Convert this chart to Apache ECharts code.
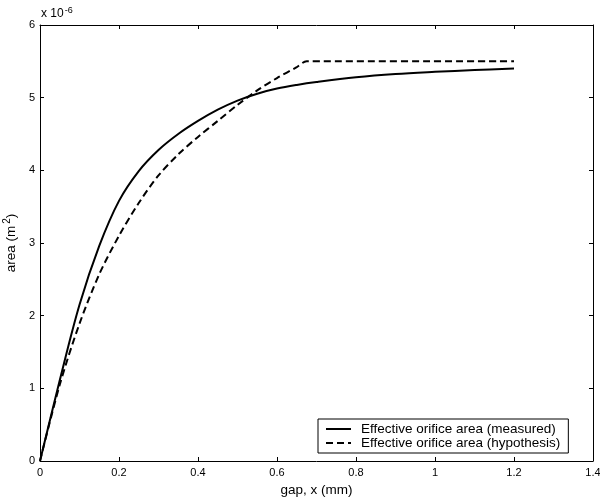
<!DOCTYPE html>
<html>
<head>
<meta charset="utf-8">
<script src="https://cdn.jsdelivr.net/npm/echarts@6/dist/echarts.min.js"></script>
<style>html,body{margin:0;padding:0;background:#fff}#c{width:600px;height:499px}</style>
</head>
<body>
<div id="c"></div>
<script>
// Data (area in units of 1e-6 m^2, gap in mm)
var measuredX = [0, 0.05, 0.1, 0.15, 0.2, 0.25, 0.3, 0.35, 0.4, 0.45, 0.5, 0.55, 0.6, 0.65, 0.7, 0.8, 0.9, 1.0, 1.1, 1.2];
var measuredY = [0, 1.11, 2.15, 2.96, 3.58, 3.99, 4.28, 4.50, 4.68, 4.835, 4.96, 5.055, 5.125, 5.175, 5.215, 5.28, 5.325, 5.355, 5.38, 5.40];
var hypoX = [0, 0.05, 0.1, 0.15, 0.2, 0.25, 0.3, 0.35, 0.4, 0.45, 0.5, 0.55, 0.6, 0.65, 0.675, 1.2];
var hypoY = [0, 1.05, 1.89, 2.57, 3.10, 3.55, 3.93, 4.22, 4.46, 4.68, 4.90, 5.10, 5.27, 5.42, 5.5, 5.5];
var seriesNames = ['Effective orifice area (measured)', 'Effective orifice area (hypothesis)'];
var xTicks = [0, 0.2, 0.4, 0.6, 0.8, 1, 1.2, 1.4];
var yTicks = [0, 1, 2, 3, 4, 5, 6];

function pairs(xs, ys) { return xs.map(function (x, i) { return [x, ys[i]]; }); }

var FONT = '"Liberation Sans", Arial, sans-serif';
var chart = echarts.init(document.getElementById('c'), null, {renderer: 'canvas'});
var axisCommon = {
  axisLine: {show: true, onZero: false, lineStyle: {color: '#000', width: 1}},
  axisTick: {show: true, inside: true, length: 4, lineStyle: {color: '#000', width: 1}},
  splitLine: {show: false}
};
chart.setOption({
  animation: false,
  textStyle: {fontFamily: FONT},
  grid: {left: 40, right: 7, top: 25, bottom: 38, containLabel: false, outerBoundsMode: 'none'},
  xAxis: [
    Object.assign({
      type: 'value', position: 'bottom', min: xTicks[0], max: xTicks[xTicks.length - 1], interval: 0.2,
      axisLabel: {color: '#000', fontSize: 11, fontFamily: FONT, margin: 6,
        formatter: function (v) { return String(+v.toFixed(1)); }},
      name: 'gap, x (mm)', nameLocation: 'middle', nameGap: 22,
      nameTextStyle: {color: '#000', fontSize: 13.5, fontFamily: FONT}
    }, axisCommon),
    Object.assign({
      type: 'value', position: 'top', min: xTicks[0], max: xTicks[xTicks.length - 1], interval: 0.2,
      axisLabel: {show: false}
    }, axisCommon)
  ],
  yAxis: [
    Object.assign({
      type: 'value', position: 'left', min: yTicks[0], max: yTicks[yTicks.length - 1], interval: 1,
      axisLabel: {color: '#000', fontSize: 11, fontFamily: FONT, margin: 5},
      name: 'area (m{sup|2})', nameLocation: 'middle', nameGap: 19,
      nameTextStyle: {color: '#000', fontSize: 13.5, fontFamily: FONT,
        rich: {sup: {fontSize: 10, color: '#000', fontFamily: FONT, verticalAlign: 'top', padding: [0, 0, 8, 2]}}}
    }, axisCommon),
    Object.assign({
      type: 'value', position: 'right', min: yTicks[0], max: yTicks[yTicks.length - 1], interval: 1,
      axisLabel: {show: false}
    }, axisCommon)
  ],
  legend: {
    orient: 'vertical', left: 318, top: 419,
    padding: [3, 8, 3, 7], itemGap: 0, itemWidth: 25, itemHeight: 14,
    borderColor: '#000', borderWidth: 1, borderRadius: 0, backgroundColor: '#fff',
    itemStyle: {color: 'rgba(0,0,0,0)', borderWidth: 0, opacity: 0},
    textStyle: {color: '#000', fontSize: 13.5, fontFamily: FONT, padding: [0, 0, 0, 5]},
    data: seriesNames
  },
  graphic: [{
    type: 'text', left: 41, top: 6,
    style: {text: 'x 10{sup|-6}', fill: '#000', font: '12px ' + FONT,
      rich: {sup: {fontSize: 9, fill: '#000', verticalAlign: 'top', padding: [0, 0, 6, 1]}}}
  }],
  series: [
    {
      name: seriesNames[0], type: 'line', data: pairs(measuredX, measuredY),
      smooth: 0.35, showSymbol: false, symbol: 'none',
      lineStyle: {color: '#000', width: 2, type: 'solid'}, itemStyle: {color: '#000'}
    },
    {
      name: seriesNames[1], type: 'line', data: pairs(hypoX, hypoY),
      smooth: 0.3, showSymbol: false, symbol: 'none',
      lineStyle: {color: '#000', width: 2, type: [7, 4]}, itemStyle: {color: '#000'}
    }
  ]
});
</script>
</body>
</html>
